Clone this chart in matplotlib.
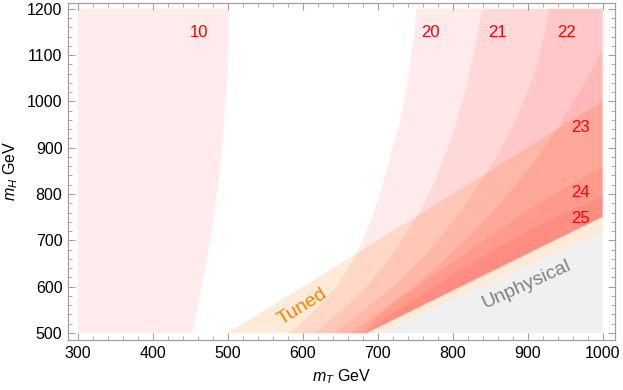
import numpy as np
import matplotlib
matplotlib.use("Agg")
import matplotlib.pyplot as plt
from matplotlib.ticker import MultipleLocator

plt.rcParams['font.family'] = ['Liberation Sans', 'DejaVu Sans']
plt.rcParams['mathtext.fontset'] = 'custom'
plt.rcParams['mathtext.it'] = 'Liberation Sans:italic'
plt.rcParams['mathtext.rm'] = 'Liberation Sans'

# ---- data ----
# contour "10": region from mT=300 to this curve
c10_mH = [500, 550, 600, 650, 700, 750, 800, 850, 900, 950, 1000, 1050, 1100, 1150, 1200]
c10_mT = [452, 459, 465, 471, 476, 481, 485, 489, 492, 495, 497, 499, 500, 501, 501]

# contours 20..25 : (mT, mH) from top/right down to bottom edge
c20_mH = [1200, 1150, 1100, 1050, 1000, 950, 900, 850, 800, 750, 700, 650, 600, 550, 500]
c20_mT = [752, 749, 745, 741, 735, 729, 720, 712, 703, 693, 680, 665, 645, 617, 583]

c21_mH = [1200, 1150, 1100, 1050, 1000, 950, 900, 850, 800, 750, 700, 650, 600, 550, 500]
c21_mT = [839, 834, 828, 821, 813, 804, 794, 782, 768, 752, 733, 711, 685, 653, 616]

c22_mH = [1200, 1150, 1100, 1050, 1000, 950, 900, 850, 800, 750, 700, 650, 600, 550, 500]
c22_mT = [929, 923, 916, 907, 895, 881, 865, 847, 827, 805, 780, 752, 720, 683, 640]

c23_mH = [1111, 1050, 1000, 950, 900, 850, 800, 750, 700, 650, 600, 550, 500]
c23_mT = [1000, 980, 962, 943, 922, 899, 874, 847, 817, 784, 747, 706, 663]

c24_mH = [860, 785, 710, 630, 575, 535, 500]
c24_mT = [1000, 920, 850, 780, 730, 700, 680]

c25_mH = [795, 760, 720, 675, 625, 575, 520, 500]
c25_mT = [1000, 950, 900, 850, 800, 750, 700, 684]

# lower edge of the physical (red) region
edge_mT = [685, 1000]
edge_mH = [500, 751]

# tuned band (upper edge mH = mT) and unphysical boundary
tuned_mT = [500, 1000, 1000, 700]
tuned_mH = [500, 1000, 720, 500]
unphys_mT = [700, 1000, 1000]
unphys_mH = [500, 720, 500]

levels = ["20", "21", "22", "23", "24", "25"]
label_mT = [770, 860, 952, 971, 971, 971]
label_mH = [1148, 1148, 1148, 944, 803, 748]

# ---- figure ----
fig = plt.figure(figsize=(6.23, 3.90), dpi=100)
ax = fig.add_axes([0.1091, 0.1282, 0.8773, 0.8649])

red = '#FF0000'
a_red = 0.08

# unphysical
ax.fill(unphys_mT, unphys_mH, color='#F0F0F0', lw=0, zorder=1)
# tuned
ax.fill(tuned_mT, tuned_mH, color='#FF8C1A', alpha=0.17, lw=0, zorder=2)

# region 10
ax.fill([300] + list(c10_mT) + [300], [500] + list(c10_mH) + [1200],
        color=red, alpha=a_red, lw=0, zorder=3)

contours = [(c20_mT, c20_mH), (c21_mT, c21_mH), (c22_mT, c22_mH),
            (c23_mT, c23_mH), (c24_mT, c24_mH), (c25_mT, c25_mH)]
for cm_T, cm_H in contours:
    px = list(cm_T) + [edge_mT[0], edge_mT[1]]
    py = list(cm_H) + [edge_mH[0], edge_mH[1]]
    if cm_H[0] >= 1200:
        px += [1000]
        py += [1200]
    ax.fill(px, py, color=red, alpha=a_red, lw=0, zorder=3)

# labels
ax.text(461, 1148, "10", color=red, fontsize=12, ha='center', va='center', zorder=5)
for lab, x, y in zip(levels, label_mT, label_mH):
    ax.text(x, y, lab, color=red, fontsize=12, ha='center', va='center', zorder=5)

ax.set_xlim(286.7, 1016)
ax.set_ylim(484.9, 1213)

# rotation angles from display slopes
def disp_angle(p0, p1):
    d0 = ax.transData.transform(p0)
    d1 = ax.transData.transform(p1)
    return np.degrees(np.arctan2(d1[1] - d0[1], d1[0] - d0[0]))

ang_t = disp_angle((500, 500), (1000, 1000))
ang_u = disp_angle((700, 500), (1000, 720))
ax.text(600, 556, "Tuned", color='#FF8000', fontsize=14, rotation=ang_t,
        rotation_mode='anchor', ha='center', va='center', zorder=5)
ax.text(899, 604, "Unphysical", color='#808080', fontsize=14, rotation=ang_u,
        rotation_mode='anchor', ha='center', va='center', zorder=5)

# axes styling
for s in ax.spines.values():
    s.set_color('#A0A0A0')
    s.set_linewidth(0.9)
ax.xaxis.set_major_locator(MultipleLocator(100))
ax.xaxis.set_minor_locator(MultipleLocator(20))
ax.yaxis.set_major_locator(MultipleLocator(100))
ax.yaxis.set_minor_locator(MultipleLocator(20))
ax.tick_params(which='both', direction='in', top=True, right=True,
               color='#A0A0A0', labelsize=11.5, labelcolor='black')
ax.tick_params(which='major', length=5, width=0.8, pad=4)
ax.tick_params(which='minor', length=2.8, width=0.6)

ax.set_xlabel("$m_T$ GeV", fontsize=11.5, labelpad=5)
ax.set_ylabel("$m_H$ GeV", fontsize=11.5, labelpad=5)

fig.savefig("out.png", dpi=100)
